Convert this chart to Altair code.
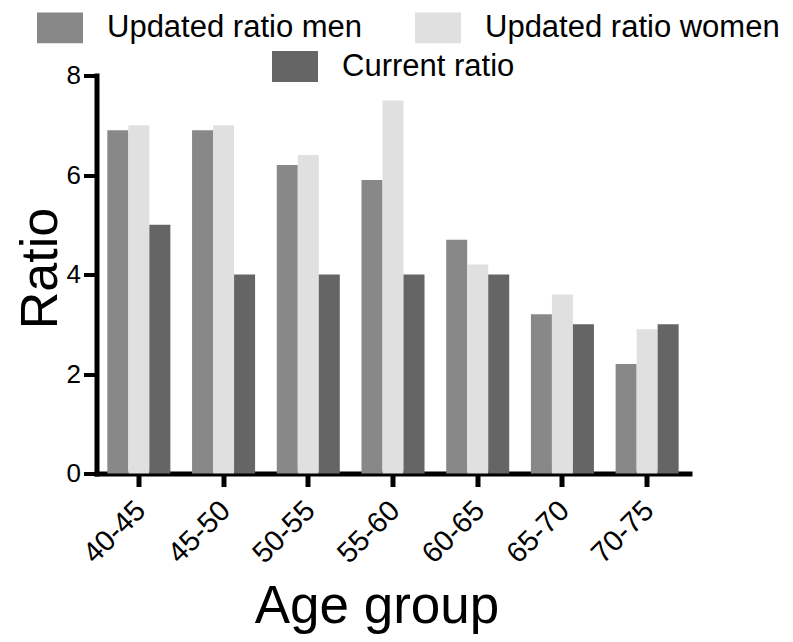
import altair as alt
import pandas as pd

age_groups = ["40-45", "45-50", "50-55", "55-60", "60-65", "65-70", "70-75"]
series_names = ["Updated ratio men", "Updated ratio women", "Current ratio"]
men = [6.9, 6.9, 6.2, 5.9, 4.7, 3.2, 2.2]
women = [7.0, 7.0, 6.4, 7.5, 4.2, 3.6, 2.9]
current = [5.0, 4.0, 4.0, 4.0, 4.0, 3.0, 3.0]
colors = ["#888888", "#e0e0e0", "#656565"]
y_ticks = [0, 2, 4, 6, 8]

rows = []
for name, vals in zip(series_names, [men, women, current]):
    for g, v in zip(age_groups, vals):
        rows.append({"age": g, "series": name, "ratio": v})
df = pd.DataFrame(rows)

FONT = "Liberation Sans"
RECT = "M-1,-0.67H1V0.67H-1Z"

x_enc = alt.X(
    "age:N",
    sort=age_groups,
    scale=alt.Scale(paddingInner=0.256, paddingOuter=0.128),
    axis=alt.Axis(
        title="Age group",
        titleFontSize=53,
        titleFont=FONT,
        titleFontWeight="normal",
        titleColor="black",
        titleX=280,
        titleY=149,
        titleAlign="center",
        titleBaseline="alphabetic",
        labelAngle=-45,
        labelAlign="right",
        labelBaseline="middle",
        labelFontSize=29,
        labelFont=FONT,
        labelColor="black",
        labelPadding=19,
        labelOffset=2,
        labelOverlap=False,
        labelFlush=False,
        domainColor="black",
        domainWidth=5,
        domainCap="square",
        tickColor="black",
        tickWidth=5,
        tickSize=13,
    ),
)
y_enc = alt.Y(
    "ratio:Q",
    scale=alt.Scale(domain=[0, 8], nice=False),
    axis=alt.Axis(
        title="Ratio",
        values=y_ticks,
        grid=False,
        titleFontSize=52,
        titleFont=FONT,
        titleFontWeight="normal",
        titleColor="black",
        titleAngle=270,
        titleX=-40.5,
        titleY=192.5,
        titleAlign="center",
        titleBaseline="alphabetic",
        labelFontSize=26,
        labelFont=FONT,
        labelColor="black",
        labelPadding=3,
        domainColor="black",
        domainWidth=5,
        domainCap="square",
        tickColor="black",
        tickWidth=4,
        tickSize=13,
    ),
)
xoff = alt.XOffset("series:N", sort=series_names, scale=alt.Scale(domain=series_names))

legend_common = dict(
    title=None,
    orient="none",
    symbolType=RECT,
    symbolSize=2116,
    symbolStrokeWidth=0,
    symbolOpacity=1,
    labelFontSize=31,
    labelFont=FONT,
    labelColor="black",
    labelOffset=24,
    labelLimit=400,
    padding=0,
)

updated = (
    alt.Chart(df)
    .transform_filter(alt.FieldOneOfPredicate(field="series", oneOf=series_names[:2]))
    .mark_bar()
    .encode(
        x=x_enc,
        y=y_enc,
        xOffset=xoff,
        color=alt.Color(
            "series:N",
            scale=alt.Scale(domain=series_names[:2], range=colors[:2]),
            legend=alt.Legend(
                direction="horizontal",
                columns=2,
                columnPadding=52,
                legendX=-59.5,
                legendY=-71,
                **legend_common,
            ),
        ),
    )
)

curr = (
    alt.Chart(df)
    .transform_filter(alt.FieldEqualPredicate(field="series", equal=series_names[2]))
    .mark_bar()
    .encode(
        x=x_enc,
        y=y_enc,
        xOffset=xoff,
        fill=alt.Fill(
            "series:N",
            scale=alt.Scale(domain=series_names[2:], range=colors[2:]),
            legend=alt.Legend(
                legendX=175.5,
                legendY=-32,
                **legend_common,
            ),
        ),
    )
)

chart = (
    alt.layer(updated, curr)
    .properties(
        width=593,
        height=398,
        autosize=alt.AutoSizeParams(type="none"),
        padding={"left": 88.5, "top": 67.5, "right": 95.5, "bottom": 160.5},
    )
    .configure_view(stroke=None)
    .configure_scale(offsetBandPaddingInner=0, offsetBandPaddingOuter=0)
)

chart.save("out.html", embed_options={"renderer": "svg", "actions": False})
